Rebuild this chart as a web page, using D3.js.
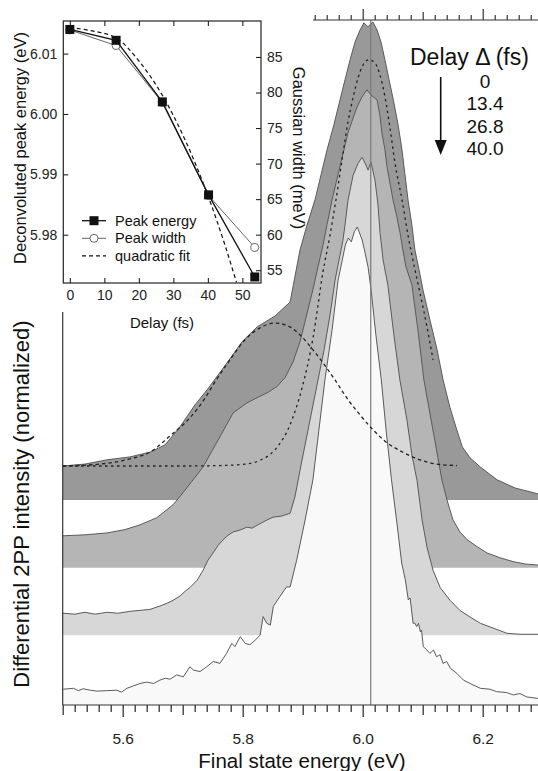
<!DOCTYPE html>
<html>
<head>
<meta charset="utf-8">
<script src="https://cdn.jsdelivr.net/npm/d3@7"></script>
<style>
  body { margin: 0; background: #fff; }
  svg { display: block; font-family: "Liberation Sans", Arial, Helvetica, sans-serif; }
</style>
</head>
<body>
<svg id="chart" width="538" height="771"></svg>
<script>
// ---------- Main panel: differential 2PP spectra, [energy (eV), normalized intensity] ----------
const delays = ["0", "13.4", "26.8", "40.0"];
const offsets = [0.429, 0.287, 0.146, 0];          // vertical offset of each spectrum
const fillColors = ["#999999", "#b5b5b5", "#d7d7d7", "#f9f9f9"];

const spectrum0 = [
  [5.5005,0.071],[5.537,0.075],[5.574,0.084],[5.612,0.090],[5.6455,0.100],[5.6705,0.115],
  [5.6955,0.153],[5.7205,0.199],[5.7405,0.230],[5.774,0.287],[5.799,0.331],[5.824,0.362],
  [5.854,0.385],[5.879,0.414],[5.8955,0.523],[5.9072,0.575],[5.9205,0.628],[5.9305,0.680],
  [5.9405,0.732],[5.952,0.785],[5.9622,0.837],[5.9705,0.879],[5.979,0.921],[5.9872,0.958],
  [5.9955,0.983],[6.002,0.998],[6.0088,0.990],[6.012,0.994],[6.017,1.000],[6.024,0.983],
  [6.0305,0.958],[6.037,0.921],[6.044,0.879],[6.051,0.837],[6.059,0.785],[6.0655,0.732],
  [6.0705,0.680],[6.0755,0.628],[6.082,0.575],[6.087,0.523],[6.094,0.481],[6.1005,0.439],
  [6.112,0.377],[6.124,0.314],[6.134,0.251],[6.1455,0.193],[6.157,0.146],[6.166,0.111],
  [6.179,0.088],[6.196,0.069],[6.224,0.042],[6.254,0.025],[6.291,0.013],[6.304,0.011]
];
const spectrum1 = [
  [5.5005,0.067],[5.537,0.069],[5.574,0.073],[5.604,0.080],[5.629,0.090],[5.657,0.105],
  [5.684,0.132],[5.7005,0.157],[5.7172,0.184],[5.734,0.211],[5.749,0.245],[5.762,0.274],
  [5.784,0.324],[5.807,0.345],[5.824,0.356],[5.8405,0.366],[5.857,0.379],[5.8705,0.398],
  [5.884,0.431],[5.8955,0.473],[5.907,0.531],[5.917,0.582],[5.9255,0.630],[5.934,0.676],
  [5.9405,0.718],[5.949,0.770],[5.9555,0.805],[5.962,0.839],[5.9755,0.910],[5.984,0.941],
  [5.9905,0.964],[5.9988,0.985],[6.007,1.000],[6.0155,0.987],[6.024,0.979],[6.029,0.944],
  [6.032,0.910],[6.037,0.875],[6.0405,0.839],[6.0455,0.805],[6.0505,0.770],[6.057,0.734],
  [6.0622,0.701],[6.067,0.665],[6.072,0.630],[6.082,0.592],[6.092,0.498],[6.102,0.393],
  [6.1155,0.299],[6.132,0.184],[6.1405,0.142],[6.1505,0.100],[6.162,0.075],[6.174,0.059],
  [6.191,0.044],[6.2072,0.031],[6.229,0.021],[6.2505,0.013],[6.2705,0.008],[6.2905,0.006],
  [6.304,0.004]
];
const spectrum2 = [
  [5.5005,0.046],[5.5205,0.044],[5.537,0.048],[5.554,0.044],[5.574,0.048],[5.592,0.046],
  [5.612,0.050],[5.629,0.052],[5.6455,0.054],[5.662,0.061],[5.674,0.067],[5.684,0.073],
  [5.6955,0.082],[5.704,0.092],[5.7122,0.100],[5.724,0.115],[5.734,0.136],[5.7422,0.157],
  [5.7505,0.172],[5.759,0.188],[5.767,0.199],[5.7755,0.209],[5.784,0.216],[5.7955,0.220],
  [5.807,0.226],[5.8155,0.224],[5.824,0.230],[5.8372,0.239],[5.8505,0.247],[5.864,0.249],
  [5.879,0.255],[5.887,0.289],[5.8955,0.345],[5.9055,0.408],[5.9155,0.471],[5.9255,0.534],
  [5.9355,0.596],[5.9455,0.670],[5.954,0.743],[5.9605,0.785],[5.967,0.826],[5.9705,0.858],
  [5.9755,0.910],[5.984,0.962],[5.9922,0.987],[5.999,1.000],[6.004,0.987],[6.009,0.973],
  [6.0138,0.990],[6.0205,0.952],[6.0255,0.900],[6.029,0.841],[6.034,0.785],[6.042,0.732],
  [6.052,0.628],[6.062,0.534],[6.0738,0.450],[6.082,0.377],[6.0905,0.324],[6.099,0.241],
  [6.1072,0.184],[6.1172,0.136],[6.129,0.100],[6.1455,0.073],[6.162,0.052],[6.179,0.038],
  [6.196,0.025],[6.2172,0.015],[6.2405,0.004],[6.262,0.002],[6.2905,0.002],[6.304,0.002]
];
const spectrum3 = [
  [5.501,0.033],[5.518,0.035],[5.526,0.030],[5.534,0.034],[5.546,0.031],[5.557,0.029],
  [5.573,0.030],[5.590,0.031],[5.598,0.027],[5.607,0.035],[5.618,0.040],[5.629,0.045],
  [5.640,0.048],[5.651,0.045],[5.662,0.052],[5.671,0.056],[5.679,0.054],[5.690,0.063],
  [5.701,0.059],[5.712,0.080],[5.718,0.073],[5.729,0.070],[5.740,0.080],[5.751,0.091],
  [5.762,0.087],[5.773,0.108],[5.782,0.129],[5.787,0.122],[5.796,0.143],[5.804,0.129],
  [5.812,0.126],[5.821,0.136],[5.829,0.146],[5.834,0.185],[5.840,0.171],[5.846,0.167],
  [5.851,0.206],[5.862,0.227],[5.873,0.247],[5.879,0.247],[5.890,0.303],[5.904,0.387],
  [5.917,0.471],[5.927,0.575],[5.937,0.680],[5.949,0.785],[5.959,0.889],[5.966,0.931],
  [5.971,0.962],[5.976,0.977],[5.981,0.969],[5.986,0.990],[5.991,1.000],[5.994,0.990],
  [5.999,0.973],[6.004,0.946],[6.009,0.916],[6.014,0.868],[6.022,0.774],[6.031,0.680],
  [6.039,0.575],[6.048,0.471],[6.057,0.381],[6.065,0.297],[6.071,0.262],[6.076,0.220],
  [6.079,0.224],[6.084,0.171],[6.087,0.171],[6.090,0.164],[6.093,0.171],[6.096,0.153],
  [6.098,0.157],[6.101,0.122],[6.107,0.115],[6.112,0.108],[6.118,0.115],[6.123,0.101],
  [6.129,0.105],[6.134,0.087],[6.140,0.091],[6.146,0.077],[6.157,0.066],[6.168,0.052],
  [6.179,0.045],[6.196,0.035],[6.212,0.033],[6.223,0.028],[6.240,0.026],[6.251,0.021],
  [6.262,0.024],[6.273,0.017],[6.290,0.014],[6.304,0.013]
];
const spectra = [spectrum0, spectrum1, spectrum2, spectrum3];

// Two-component fit of the 0 fs spectrum (same baseline as spectrum0)
const fitNarrow = [
  [5.5005,0.071],[5.5955,0.071],[5.6955,0.071],[5.7622,0.072],[5.8038,0.075],[5.8288,0.083],
  [5.8538,0.105],[5.8788,0.157],[5.8988,0.234],[5.9172,0.339],[5.9338,0.477],[5.9455,0.554],
  [5.9555,0.628],[5.9655,0.711],[5.9755,0.791],[5.9838,0.841],[5.9922,0.883],[6.0005,0.910],
  [6.0105,0.921],[6.0205,0.914],[6.0288,0.889],[6.0372,0.843],[6.0455,0.778],[6.0538,0.705],
  [6.0655,0.628],[6.0755,0.554],[6.0872,0.481],[6.0955,0.433],[6.1072,0.362],[6.1172,0.293]
];
const fitBroad = [
  [5.5005,0.071],[5.5622,0.075],[5.6122,0.086],[5.6455,0.100],[5.6788,0.134],[5.7122,0.172],
  [5.7372,0.213],[5.7538,0.247],[5.7788,0.293],[5.8038,0.335],[5.8288,0.360],[5.8538,0.370],
  [5.8788,0.362],[5.8988,0.341],[5.9172,0.314],[5.9338,0.287],[5.9538,0.251],[5.9738,0.213],
  [5.9955,0.178],[6.0155,0.149],[6.0372,0.123],[6.0622,0.103],[6.0955,0.084],[6.1238,0.075],
  [6.1572,0.072]
];
const referenceEnergy = 6.0134;                     // vertical marker line

const energyTicks = d3.range(0, 41).map(i => +(5.5 + i * 0.02).toFixed(2));
const energyLabels = [5.6, 5.8, 6.0, 6.2];

// ---------- Inset: peak parameters vs delay ----------
const insetDelay = [0, 13.4, 26.8, 40.2, 53.6];
const peakEnergy = [6.0140, 6.0122, 6.0020, 5.9866, 5.9730];   // eV, left axis
const peakWidth = [88.8, 86.6, 78.6, 65.5, 58.2];               // meV, right axis
const fitDelay = [0, 6, 13.4, 20, 26.8, 33, 40.2, 45, 48.3];
const fitEnergy = [6.0143, 6.0138, 6.0126, 6.0088, 6.0031, 5.9962, 5.9862, 5.9782, 5.9721];
const insetDelayTicks = [0, 10, 20, 30, 40, 50];
const insetEnergyTicks = [5.98, 5.99, 6.00, 6.01];
const insetWidthTicks = [55, 60, 65, 70, 75, 80, 85];

// ---------- Drawing ----------
const svg = d3.select("#chart");
const x = d3.scaleLinear().domain([5.5, 6.3]).range([62.7, 542.7]);
const y = d3.scaleLinear().domain([0, 1.4289]).range([705, 22]);

svg.append("defs").append("clipPath").attr("id", "plotClip")
  .append("rect").attr("x", 62.7).attr("y", 0).attr("width", 480).attr("height", 705);

const plot = svg.append("g").attr("clip-path", "url(#plotClip)");

spectra.forEach((spec, i) => {
  const off = offsets[i];
  const area = d3.area()
    .x(d => x(d[0])).y0(y(off)).y1(d => y(off + d[1]));
  const line = d3.line()
    .x(d => x(d[0])).y(d => y(off + d[1]));
  plot.append("path").datum(spec).attr("d", area).attr("fill", fillColors[i]);
  plot.append("path").datum(spec).attr("d", line)
    .attr("fill", "none").attr("stroke", "#5a5a5a").attr("stroke-width", 1);
});

// vertical reference line
plot.append("line")
  .attr("x1", x(referenceEnergy)).attr("x2", x(referenceEnergy))
  .attr("y1", y(0)).attr("y2", 20)
  .attr("stroke", "#7a7a7a").attr("stroke-width", 1.2);

// fit components
const fitLine = d3.line().curve(d3.curveMonotoneX)
  .x(d => x(d[0])).y(d => y(offsets[0] + d[1]));
plot.append("path").datum(fitNarrow).attr("d", fitLine)
  .attr("fill", "none").attr("stroke", "#222").attr("stroke-width", 1.3)
  .attr("stroke-dasharray", "2.5,3.5");
plot.append("path").datum(fitBroad).attr("d", fitLine)
  .attr("fill", "none").attr("stroke", "#222").attr("stroke-width", 1.3)
  .attr("stroke-dasharray", "3.5,3");

// bottom axis
const isLabel = d => energyLabels.some(v => Math.abs(v - d) < 1e-6);
const isTenth = d => Math.abs(d * 10 - Math.round(d * 10)) < 1e-6;
const gx = svg.append("g").attr("transform", `translate(0,${y(0)})`)
  .call(d3.axisBottom(x).tickValues(energyTicks)
    .tickFormat(d => isLabel(d) ? d3.format(".1f")(d) : ""));
gx.select(".domain").remove();
gx.selectAll(".tick line").attr("stroke", "#333").attr("stroke-width", 1.3)
  .attr("y2", d => isLabel(d) ? 12 : isTenth(d) ? 10 : 7);
gx.selectAll(".tick text").attr("y", 39).attr("dy", null)
  .attr("font-size", 15.5).attr("fill", "#222");
svg.append("line").attr("x1", x(5.5)).attr("x2", 538).attr("y1", y(0)).attr("y2", y(0))
  .attr("stroke", "#333").attr("stroke-width", 1.2);

// top axis (unlabelled)
const topTicks = energyTicks.filter(d => d >= 5.92);
const gt = svg.append("g").attr("transform", "translate(0,20)")
  .call(d3.axisTop(x).tickValues(topTicks).tickFormat(""));
gt.select(".domain").remove();
gt.selectAll(".tick line").attr("stroke", "#333").attr("stroke-width", 1.2)
  .attr("y2", d => isLabel(d) ? -11 : isTenth(d) ? -8 : -5);
svg.append("line").attr("x1", 313).attr("x2", 538).attr("y1", 20).attr("y2", 20)
  .attr("stroke", "#333").attr("stroke-width", 1.2);

// left axis line
svg.append("line").attr("x1", x(5.5)).attr("x2", x(5.5)).attr("y1", 312).attr("y2", y(0))
  .attr("stroke", "#333").attr("stroke-width", 1.2);

// axis titles
svg.append("text").attr("x", 302).attr("y", 768).attr("text-anchor", "middle")
  .attr("font-size", 20.5).attr("fill", "#111").text("Final state energy (eV)");
svg.append("text").attr("transform", "translate(29,504) rotate(-90)")
  .attr("text-anchor", "middle").attr("font-size", 22).attr("fill", "#111")
  .text("Differential 2PP intensity (normalized)");

// delay annotation
svg.append("text").attr("x", 410).attr("y", 65).attr("font-size", 23).attr("fill", "#111")
  .text("Delay \u0394 (fs)");
svg.selectAll(".delayLabel").data(delays).join("text")
  .attr("class", "delayLabel")
  .attr("x", 485).attr("y", (d, i) => 88 + i * 22.3)
  .attr("text-anchor", "middle").attr("font-size", 19).attr("fill", "#111")
  .text(d => d);
svg.append("line").attr("x1", 440.7).attr("x2", 440.7).attr("y1", 77).attr("y2", 141)
  .attr("stroke", "#111").attr("stroke-width", 1.6);
svg.append("path").attr("d", "M434.7,140 L446.7,140 L440.7,155 Z").attr("fill", "#111");

// ---------- Inset ----------
const xi = d3.scaleLinear().domain([-1.9, 55.4]).range([63.3, 261]);
const yiL = d3.scaleLinear().domain([5.972, 6.0154]).range([283, 21]);
const yiR = d3.scaleLinear().domain([53.2, 90.06]).range([283, 21]);
const inset = svg.append("g");

const styleAxis = (g, fontSize) => {
  g.select(".domain").remove();
  g.selectAll(".tick line").attr("stroke", "#222").attr("stroke-width", 1.1);
  g.selectAll(".tick text").attr("font-size", fontSize).attr("fill", "#222");
};
inset.append("g").attr("transform", "translate(0,283)")
  .call(d3.axisBottom(xi).tickValues(insetDelayTicks).tickSizeInner(-5).tickSizeOuter(0).tickPadding(7))
  .call(g => styleAxis(g, 14));
inset.append("g").attr("transform", "translate(0,21)")
  .call(d3.axisTop(xi).tickValues(insetDelayTicks).tickSizeInner(-5).tickSizeOuter(0).tickFormat(""))
  .call(g => styleAxis(g, 14));
inset.append("g").attr("transform", "translate(63.3,0)")
  .call(d3.axisLeft(yiL).tickValues(insetEnergyTicks).tickSizeInner(-5).tickSizeOuter(0).tickPadding(6)
    .tickFormat(d3.format(".2f")))
  .call(g => styleAxis(g, 14));
inset.append("g").attr("transform", "translate(261,0)")
  .call(d3.axisRight(yiR).tickValues(insetWidthTicks).tickSizeInner(-5).tickSizeOuter(0).tickPadding(6))
  .call(g => styleAxis(g, 14));
inset.append("rect").attr("x", 63.3).attr("y", 21).attr("width", 261 - 63.3).attr("height", 283 - 21)
  .attr("fill", "none").attr("stroke", "#222").attr("stroke-width", 1.2);

// width series (right axis)
const widthPts = insetDelay.map((d, i) => [d, peakWidth[i]]);
inset.append("path").datum(widthPts)
  .attr("d", d3.line().x(d => xi(d[0])).y(d => yiR(d[1])))
  .attr("fill", "none").attr("stroke", "#666").attr("stroke-width", 1);
inset.selectAll(".wpt").data(widthPts).join("circle").attr("class", "wpt")
  .attr("cx", d => xi(d[0])).attr("cy", d => yiR(d[1])).attr("r", 4)
  .attr("fill", "#fff").attr("stroke", "#666").attr("stroke-width", 1);

// quadratic fit of peak energy
const fitPts = fitDelay.map((d, i) => [d, fitEnergy[i]]);
inset.append("path").datum(fitPts)
  .attr("d", d3.line().curve(d3.curveMonotoneX).x(d => xi(d[0])).y(d => yiL(d[1])))
  .attr("fill", "none").attr("stroke", "#111").attr("stroke-width", 1.2)
  .attr("stroke-dasharray", "4,3");

// peak energy series (left axis)
const energyPts = insetDelay.map((d, i) => [d, peakEnergy[i]]);
inset.append("path").datum(energyPts)
  .attr("d", d3.line().x(d => xi(d[0])).y(d => yiL(d[1])))
  .attr("fill", "none").attr("stroke", "#111").attr("stroke-width", 1.3);
inset.selectAll(".ept").data(energyPts).join("rect").attr("class", "ept")
  .attr("x", d => xi(d[0]) - 4.5).attr("y", d => yiL(d[1]) - 4.5)
  .attr("width", 9).attr("height", 9).attr("fill", "#111");

// inset titles
inset.append("text").attr("transform", "translate(26,148) rotate(-90)")
  .attr("text-anchor", "middle").attr("font-size", 16.5).attr("fill", "#111")
  .text("Deconvoluted peak energy (eV)");
inset.append("text").attr("transform", "translate(293,148) rotate(90)")
  .attr("text-anchor", "middle").attr("font-size", 16.5).attr("fill", "#111")
  .text("Gaussian width (meV)");
inset.append("text").attr("x", 162).attr("y", 328).attr("text-anchor", "middle")
  .attr("font-size", 15).attr("fill", "#111").text("Delay (fs)");

// legend
const legendRows = [
  { label: "Peak energy", kind: "square" },
  { label: "Peak width", kind: "circle" },
  { label: "quadratic fit", kind: "dash" }
];
legendRows.forEach((row, i) => {
  const ly = 220.7 + i * 17.6;
  const g = inset.append("g");
  g.append("line").attr("x1", 82).attr("x2", 106).attr("y1", ly).attr("y2", ly)
    .attr("stroke", row.kind === "circle" ? "#666" : "#111")
    .attr("stroke-width", row.kind === "circle" ? 1 : 1.3)
    .attr("stroke-dasharray", row.kind === "dash" ? "4,3" : null);
  if (row.kind === "square") {
    g.append("rect").attr("x", 89.5).attr("y", ly - 4.5).attr("width", 9).attr("height", 9).attr("fill", "#111");
  } else if (row.kind === "circle") {
    g.append("circle").attr("cx", 94).attr("cy", ly).attr("r", 4)
      .attr("fill", "#fff").attr("stroke", "#666");
  }
  g.append("text").attr("x", 115).attr("y", ly + 5).attr("font-size", 14.5).attr("fill", "#111")
    .text(row.label);
});
</script>
</body>
</html>
